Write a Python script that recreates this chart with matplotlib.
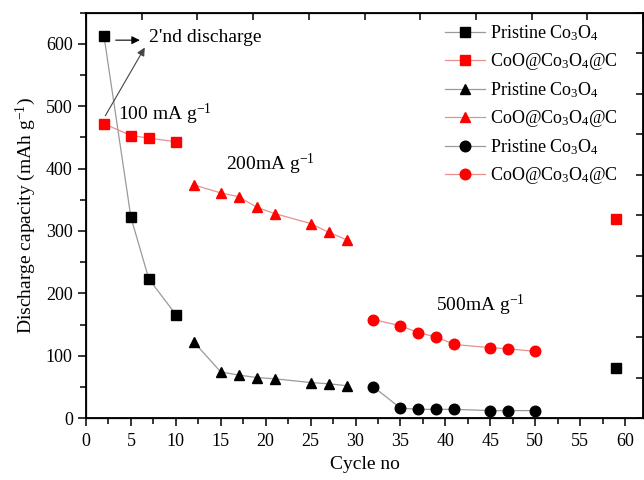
import numpy as np
import matplotlib
matplotlib.use("Agg")
from matplotlib import pyplot as plt
from matplotlib.ticker import MultipleLocator

plt.rcParams['font.family'] = ['Liberation Serif', 'DejaVu Serif']
plt.rcParams['mathtext.fontset'] = 'custom'
plt.rcParams['mathtext.rm'] = 'Liberation Serif'
plt.rcParams['mathtext.it'] = 'Liberation Serif:italic'

# 100 mA/g
cyc_sq = [2, 5, 7, 10]
pristine_sq = [613, 322, 223, 166]
coated_sq = [472, 453, 449, 443]
# 200 mA/g
cyc_tri = [12, 15, 17, 19, 21, 25, 27, 29]
pristine_tri = [122, 74, 69, 65, 63, 57, 55, 52]
coated_tri = [374, 361, 355, 338, 328, 312, 298, 286]
# 500 mA/g
cyc_circ = [32, 35, 37, 39, 41, 45, 47, 50]
pristine_circ = [50, 16, 14, 14, 14, 12, 12, 12]
coated_circ = [158, 148, 137, 130, 118, 113, 111, 107]
# back to 100 mA/g
cyc_last = [59]
pristine_last = [80]
coated_last = [319]

lbl_p = r'Pristine Co$_3$O$_4$'
lbl_c = r'CoO@Co$_3$O$_4$@C'

fig = plt.figure(figsize=(6.44, 4.80), dpi=100)
ax = fig.add_axes([0.1335, 0.129, 0.865, 0.8445])

gray = '#9a9a9a'
pink = '#e89090'
ms = 7.6

def series(x, y, mk, col, lcol, lab):
    ax.plot(x, y, marker=mk, color=lcol, lw=0.9, markersize=ms,
            markerfacecolor=col, markeredgecolor=col, label=lab)

series(cyc_sq, pristine_sq, 's', 'black', gray, lbl_p)
series(cyc_sq, coated_sq, 's', 'red', pink, lbl_c)
series(cyc_tri, pristine_tri, '^', 'black', gray, lbl_p)
series(cyc_tri, coated_tri, '^', 'red', pink, lbl_c)
series(cyc_circ, pristine_circ, 'o', 'black', gray, lbl_p)
series(cyc_circ, coated_circ, 'o', 'red', pink, lbl_c)
ax.plot(cyc_last, pristine_last, 's', color='black', markersize=ms)
ax.plot(cyc_last, coated_last, 's', color='red', markersize=ms)

ax.set_xlim(0, 62)
ax.set_ylim(0, 650)
ax.xaxis.set_major_locator(MultipleLocator(5))
ax.xaxis.set_minor_locator(MultipleLocator(2.5))
ax.yaxis.set_major_locator(MultipleLocator(100))
ax.yaxis.set_minor_locator(MultipleLocator(50))
ax.tick_params(which='major', direction='out', length=6, width=1.1, labelsize=13)
ax.tick_params(axis='x', which='major', pad=5)
ax.tick_params(which='minor', direction='out', length=4, width=1.1)
for s in ax.spines.values():
    s.set_linewidth(1.3)

# top / right ticks (inward, ten divisions)
axt = ax.twiny()
axt.set_xlim(0, 62)
axt.set_xticks(np.linspace(0, 62, 11))
axt.tick_params(direction='in', length=5, width=1.1, labeltop=False)
axr = ax.twinx()
axr.set_ylim(0, 650)
axr.set_yticks(np.linspace(0, 650, 11))
axr.tick_params(direction='in', length=5, width=1.1, labelright=False)

ax.set_xlabel('Cycle no', fontsize=14, labelpad=4)
ax.set_ylabel(r'Discharge capacity (mAh g$^{-1}$)', fontsize=14, labelpad=6)

ax.annotate('', xy=(6.3, 606), xytext=(3.0, 606),
            arrowprops=dict(arrowstyle='-|>', color='black', lw=0.8,
                            mutation_scale=12))
ax.annotate('', xy=(6.7, 598), xytext=(2.0, 481),
            arrowprops=dict(arrowstyle='-|>', color='#444444', lw=0.8,
                            mutation_scale=12))
ax.text(7.0, 611, "2'nd discharge", fontsize=14, va='center')
ax.text(3.6, 487, r'100 mA g$^{\mathregular{-1}}$', fontsize=14, va='center')
ax.text(15.6, 406, r'200mA g$^{\mathregular{-1}}$', fontsize=14, va='center')
ax.text(39.0, 180, r'500mA g$^{\mathregular{-1}}$', fontsize=14, va='center')

ax.legend(loc='upper left', bbox_to_anchor=(0.645, 0.973), frameon=False,
          fontsize=13, handlelength=2.2, handletextpad=0.3,
          labelspacing=0.45, borderaxespad=0, borderpad=0)

plt.savefig('out.png', dpi=100)
